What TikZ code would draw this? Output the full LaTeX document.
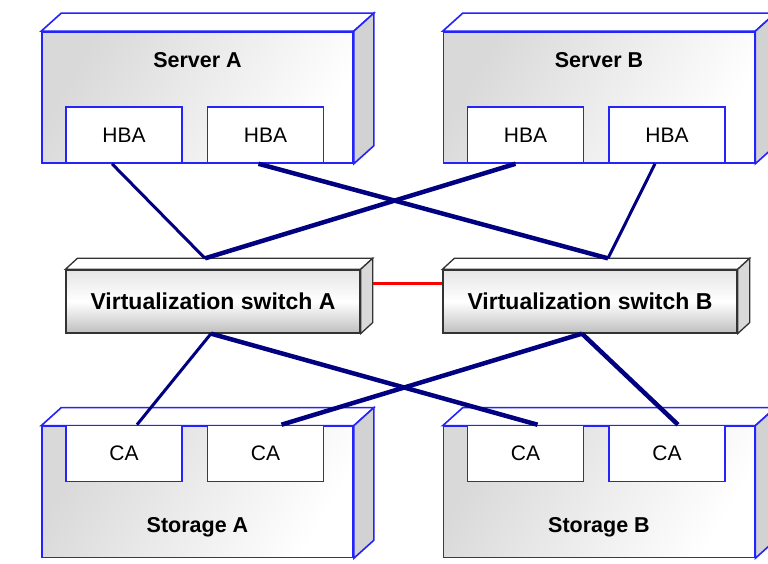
\documentclass[tikz,border=0pt]{standalone}
\usepackage{fontspec}
\setmainfont{Liberation Sans}

\definecolor{frameblue}{RGB}{35,35,250}
\definecolor{navy}{RGB}{0,0,128}

\begin{document}
\begin{tikzpicture}[
  x=1pt, y=1pt,
  hostbox/.style={rectangle, draw=frameblue, line width=1.6pt, inner sep=0pt, minimum width=311pt, minimum height=131pt, left color=gray!30, right color=white, shading angle=60},
  portbox/.style={rectangle, draw=frameblue, line width=1.6pt, fill=white, inner sep=0pt, minimum width=116pt, minimum height=56pt, font=\fontsize{21}{21}\selectfont},
  switchbox/.style={rectangle, draw=black!80, line width=1.3pt, inner sep=0pt, minimum width=294pt, minimum height=63pt, top color=gray!20, bottom color=gray!50, middle color=white, font=\bfseries\fontsize{23}{23}\selectfont},
  title/.style={font=\bfseries\fontsize{21.5}{21.5}\selectfont},
  topface/.style={draw=frameblue, line width=1.6pt, fill=white},
  sideface/.style={draw=frameblue, line width=1.6pt, fill=gray!35},
  swtop/.style={draw=black!80, line width=1.3pt, fill=white},
  swside/.style={draw=black!80, line width=1.3pt, fill=gray!30},
  cable/.style={navy, line width=4.5pt},
  thincable/.style={navy, line width=3pt},
  isl/.style={red, line width=3pt}
]
  \useasboundingbox (0,0) rectangle (768,564);

  % Servers (front faces)
  \node[hostbox] (srvA) at (197.5,466.5) {};
  \node[hostbox] (srvB) at (599,466.5) {};
  \draw[topface] (srvA.north west) -- ++(20,18) -- ([shift={(20,18)}]srvA.north east) -- (srvA.north east) -- cycle;
  \draw[sideface] (srvA.north east) -- ++(20,18) -- ([shift={(20,18)}]srvA.south east) -- (srvA.south east) -- cycle;
  \draw[topface] (srvB.north west) -- ++(20,18) -- ([shift={(20,18)}]srvB.north east) -- (srvB.north east) -- cycle;
  \draw[sideface] (srvB.north east) -- ++(20,18) -- ([shift={(20,18)}]srvB.south east) -- (srvB.south east) -- cycle;
  \node[title] (lblSrvA) at (197.5,504) {Server A};
  \node[title] (lblSrvB) at (599,504) {Server B};

  % HBAs
  \node[portbox] (hbaA1) at (124,429) {HBA};
  \node[portbox] (hbaA2) at (265.5,429) {HBA};
  \node[portbox] (hbaB1) at (525.5,429) {HBA};
  \node[portbox] (hbaB2) at (667,429) {HBA};

  % Storages (front faces)
  \node[hostbox] (stoA) at (197.5,72) {};
  \node[hostbox] (stoB) at (599,72) {};
  \draw[topface] (stoA.north west) -- ++(20,18) -- ([shift={(20,18)}]stoA.north east) -- (stoA.north east) -- cycle;
  \draw[sideface] (stoA.north east) -- ++(20,18) -- ([shift={(20,18)}]stoA.south east) -- (stoA.south east) -- cycle;
  \draw[topface] (stoB.north west) -- ++(20,18) -- ([shift={(20,18)}]stoB.north east) -- (stoB.north east) -- cycle;
  \draw[sideface] (stoB.north east) -- ++(20,18) -- ([shift={(20,18)}]stoB.south east) -- (stoB.south east) -- cycle;
  \node[title] (lblStoA) at (197.5,37) {Storage A};
  \node[title] (lblStoB) at (599,37) {Storage B};

  % CAs
  \node[portbox] (caA1) at (124,110.5) {CA};
  \node[portbox] (caA2) at (265.5,110.5) {CA};
  \node[portbox] (caB1) at (525.5,110.5) {CA};
  \node[portbox] (caB2) at (667,110.5) {CA};

  % Virtualization switches
  \node[switchbox] (swA) at (213,262.5) {Virtualization switch A};
  \node[switchbox] (swB) at (590,262.5) {Virtualization switch B};
  \draw[swtop] (swA.north west) -- ++(12,11) -- ([shift={(12,11)}]swA.north east) -- (swA.north east) -- cycle;
  \draw[swside] (swA.north east) -- ++(12,11) -- ([shift={(12,11)}]swA.south east) -- (swA.south east) -- cycle;
  \draw[swtop] (swB.north west) -- ++(12,11) -- ([shift={(12,11)}]swB.north east) -- (swB.north east) -- cycle;
  \draw[swside] (swB.north east) -- ++(12,11) -- ([shift={(12,11)}]swB.south east) -- (swB.south east) -- cycle;

  % Inter-switch link
  \draw[isl] ([shift={(12,18)}]swA.east) -- ([yshift=18pt]swB.west);

  % Cables: HBAs to switches
  \draw[thincable] ([xshift=-12pt]hbaA1.south) -- ([shift={(-8,11)}]swA.north);
  \draw[cable] ([xshift=-7pt]hbaA2.south) -- ([shift={(18,11)}]swB.north);
  \draw[cable] ([xshift=-10pt]hbaB1.south) -- ([shift={(-8,11)}]swA.north);
  \draw[thincable] ([xshift=-12pt]hbaB2.south) -- ([shift={(18,11)}]swB.north);

  % Cables: switches to CAs
  \draw[thincable] ([xshift=-2pt]swA.south) -- ([xshift=13pt]caA1.north);
  \draw[cable] ([xshift=-2pt]swA.south) -- ([xshift=12pt]caB1.north);
  \draw[cable] ([xshift=-8pt]swB.south) -- ([xshift=16pt]caA2.north);
  \draw[cable] ([xshift=-8pt]swB.south) -- ([xshift=11pt]caB2.north);
\end{tikzpicture}
\end{document}
